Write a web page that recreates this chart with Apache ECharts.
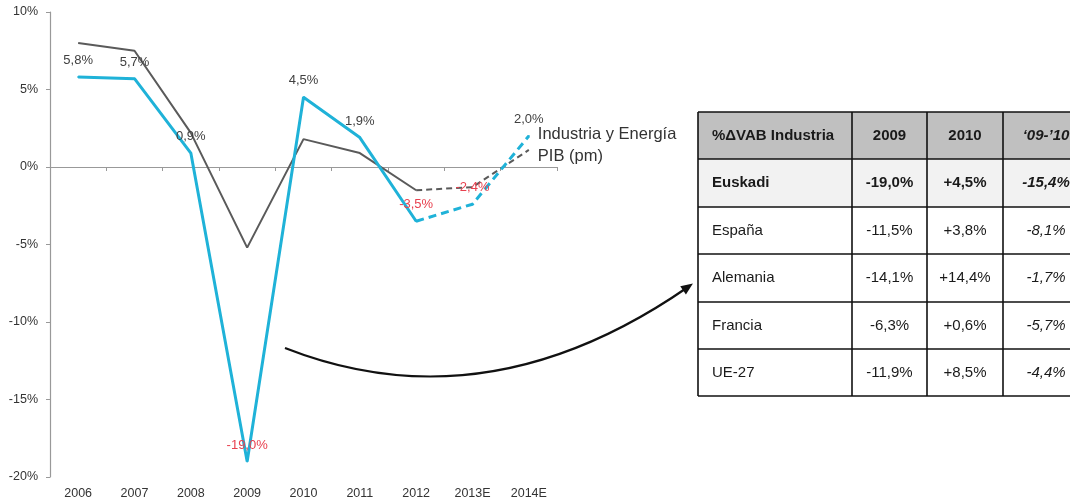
<!DOCTYPE html>
<html>
<head>
<meta charset="utf-8">
<script src="https://cdn.jsdelivr.net/npm/echarts@6/dist/echarts.min.js"></script>
<style>
html,body{margin:0;padding:0;background:#fff;}
#chart{width:1070px;height:504px;}
</style>
</head>
<body>
<div id="chart"></div>
<script>
// ---- Chart data ----
const categories = ['2006','2007','2008','2009','2010','2011','2012','2013E','2014E'];
const industria = [5.8, 5.7, 0.9, -19.0, 4.5, 1.9, -3.5, -2.4, 2.0];
const pib = [8.0, 7.5, 2.2, -5.2, 1.8, 0.9, -1.5, -1.3, 1.1];
const forecastStart = 6; // 2012: dashed from here on
const seriesNames = ['Industria y Energía', 'PIB (pm)'];
const yTicks = { min: -20, max: 10, interval: 5 };

// ---- Table data ----
const tableHeader = ['%ΔVAB Industria', '2009', '2010', '‘09-’10'];
const tableRegions = ['Euskadi', 'España', 'Alemania', 'Francia', 'UE-27'];
const table2009 = ['-19,0%', '-11,5%', '-14,1%', '-6,3%', '-11,9%'];
const table2010 = ['+4,5%', '+3,8%', '+14,4%', '+0,6%', '+8,5%'];
const table0910 = ['-15,4%', '-8,1%', '-1,7%', '-5,7%', '-4,4%'];

const BLUE = '#1fb2d8';
const GRAY = '#5a5a5a';
const FONT = 'Liberation Sans, Arial, sans-serif';

function fmt(v){ return v.toFixed(1).replace('.', ',') + '%'; }

function buildData(arr, from, to, withLabels, labelFrom){
  return arr.map((v, i) => {
    if (i < from || i > to) return '-';
    const item = { value: v };
    if (withLabels) {
      item.label = {
        show: i >= labelFrom,
        color: v < 0 ? '#e8414f' : '#404040'
      };
    }
    return item;
  });
}

const chart = echarts.init(document.getElementById('chart'), null, { renderer: 'canvas' });

const labelCfg = {
  show: true, position: 'top', distance: 9,
  fontFamily: FONT, fontSize: 13,
  formatter: p => fmt(p.value)
};

const last = categories.length - 1;

// ---- Table graphics ----
const colX = [698, 852, 927, 1003, 1089];
const rowY = [112, 159, 207, 254, 302, 349, 396];
const tableGraphics = [];
tableGraphics.push({ type: 'rect', shape: { x: colX[0], y: rowY[0], width: colX[4]-colX[0], height: rowY[1]-rowY[0] }, style: { fill: '#c0c0c0' }, silent: true });
tableGraphics.push({ type: 'rect', shape: { x: colX[0], y: rowY[1], width: colX[4]-colX[0], height: rowY[2]-rowY[1] }, style: { fill: '#f2f2f2' }, silent: true });
rowY.forEach(y => tableGraphics.push({ type: 'line', shape: { x1: colX[0], y1: y, x2: colX[4], y2: y }, style: { stroke: '#111', lineWidth: 1.6 }, silent: true }));
colX.slice(0, 4).forEach(x => tableGraphics.push({ type: 'line', shape: { x1: x, y1: rowY[0], x2: x, y2: rowY[6] }, style: { stroke: '#111', lineWidth: 1.6 }, silent: true }));
function cellText(text, col, row, opts){
  const cy = (rowY[row] + rowY[row+1]) / 2;
  const left = col === 0;
  tableGraphics.push({
    type: 'text', silent: true,
    style: {
      text: text,
      x: left ? colX[0] + 14 : (colX[col] + colX[col+1]) / 2,
      y: cy,
      align: left ? 'left' : 'center',
      verticalAlign: 'middle',
      font: (opts.italic ? 'italic ' : '') + (opts.bold ? 'bold ' : '') + '15px ' + FONT,
      fill: '#1a1a1a'
    }
  });
}
tableHeader.forEach((t, c) => cellText(t, c, 0, { bold: true, italic: c === 3 }));
tableRegions.forEach((r, i) => {
  const bold = i === 0;
  cellText(r, 0, i+1, { bold });
  cellText(table2009[i], 1, i+1, { bold });
  cellText(table2010[i], 2, i+1, { bold });
  cellText(table0910[i], 3, i+1, { bold, italic: true });
});

// ---- Curved arrow ----
const P0 = [285, 348], C = [486, 427], P2 = [688, 287];
const dx = P2[0] - C[0], dy = P2[1] - C[1];
const len = Math.sqrt(dx*dx + dy*dy);
const ux = dx/len, uy = dy/len;
const tip = [P2[0] + ux*6, P2[1] + uy*6];
const back = [tip[0] - ux*12, tip[1] - uy*12];
const px = -uy, py = ux;
const arrowGraphics = [
  { type: 'bezierCurve', silent: true,
    shape: { x1: P0[0], y1: P0[1], x2: P2[0], y2: P2[1], cpx1: C[0], cpy1: C[1] },
    style: { stroke: '#111', lineWidth: 2.2, fill: null } },
  { type: 'polygon', silent: true,
    shape: { points: [tip, [back[0] + px*5, back[1] + py*5], [back[0] - px*5, back[1] - py*5]] },
    style: { fill: '#111' } }
];

const option = {
  animation: false,
  backgroundColor: '#fff',
  textStyle: { fontFamily: FONT },
  grid: { left: 50, right: 513, top: 12, bottom: 27, containLabel: false },
  xAxis: [
    {
      type: 'category', data: categories, boundaryGap: true, position: 'bottom',
      axisLine: { show: false, onZero: false },
      axisTick: { show: false },
      axisLabel: { color: '#333', fontSize: 12.5, margin: 10, fontFamily: FONT, interval: 0 }
    },
    {
      type: 'category', data: categories, boundaryGap: true, position: 'top',
      axisLine: { show: true, onZero: true, onZeroAxisIndex: 0, lineStyle: { color: '#999', width: 1.2 } },
      axisTick: { show: true, inside: true, length: 4, lineStyle: { color: '#999' } },
      axisLabel: { show: false }
    }
  ],
  yAxis: {
    type: 'value', min: yTicks.min, max: yTicks.max, interval: yTicks.interval,
    axisLine: { show: true, lineStyle: { color: '#999', width: 1.2 } },
    axisTick: { show: true, length: 4, lineStyle: { color: '#999' } },
    splitLine: { show: false },
    axisLabel: { color: '#333', fontSize: 12.5, margin: 12, fontFamily: FONT, formatter: '{value}%' }
  },
  series: [
    {
      name: seriesNames[1], type: 'line', xAxisIndex: 0,
      data: buildData(pib, 0, forecastStart, false, 0),
      symbol: 'none', lineStyle: { color: GRAY, width: 2 }, itemStyle: { color: GRAY }, z: 2
    },
    {
      name: seriesNames[1] + ' (e)', type: 'line', xAxisIndex: 0,
      data: buildData(pib, forecastStart, last, false, 0),
      symbol: 'none', lineStyle: { color: GRAY, width: 2, type: [6, 4] }, itemStyle: { color: GRAY }, z: 2,
      endLabel: { show: true, formatter: seriesNames[1], distance: 9, offset: [0, 7], color: '#333', fontSize: 16.5, fontFamily: FONT }
    },
    {
      name: seriesNames[0], type: 'line', xAxisIndex: 0,
      data: buildData(industria, 0, forecastStart, true, 0),
      symbol: 'circle', symbolSize: 2, showSymbol: true,
      lineStyle: { color: BLUE, width: 3 }, itemStyle: { color: BLUE },
      label: labelCfg, z: 3
    },
    {
      name: seriesNames[0] + ' (e)', type: 'line', xAxisIndex: 0,
      data: buildData(industria, forecastStart, last, true, forecastStart + 1),
      symbol: 'circle', symbolSize: 2, showSymbol: true,
      lineStyle: { color: BLUE, width: 3, type: [8, 5] }, itemStyle: { color: BLUE },
      label: labelCfg, z: 3,
      endLabel: { show: true, formatter: seriesNames[0], distance: 9, offset: [0, -2], color: '#333', fontSize: 16.5, fontFamily: FONT }
    }
  ],
  graphic: tableGraphics.concat(arrowGraphics)
};

chart.setOption(option);
</script>
</body>
</html>
